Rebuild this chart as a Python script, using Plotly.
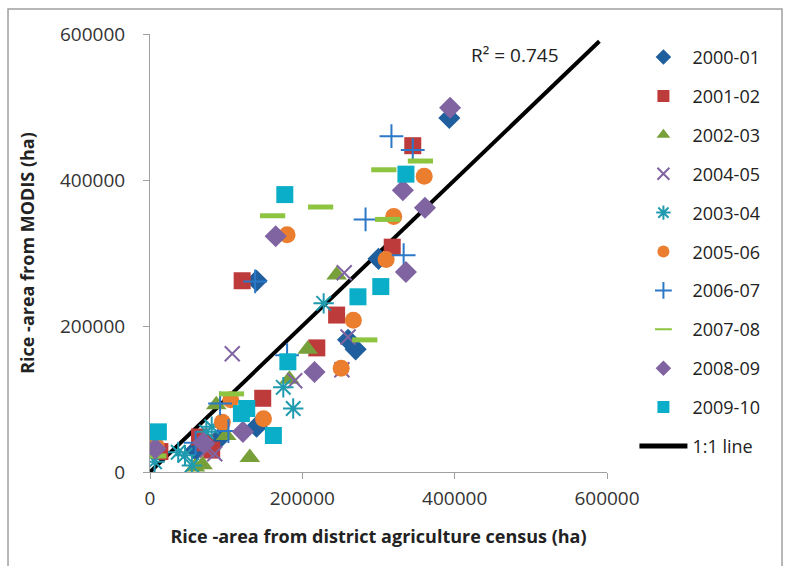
import plotly.graph_objects as go

series_names = ["2000-01", "2001-02", "2002-03", "2004-05", "2003-04",
                "2005-06", "2006-07", "2007-08", "2008-09", "2009-10"]

x_2000_01 = [393000, 140000, 270000, 260000, 300000, 140000, 60000, 90000]
y_2000_01 = [485000, 262000, 168000, 181000, 292000, 62000, 30000, 45000]

x_2001_02 = [345000, 121000, 318000, 245000, 219000, 148000, 65000, 81000, 13000, 72000]
y_2001_02 = [447000, 262000, 308000, 215000, 170000, 101000, 48000, 30000, 28000, 40000]

x_2002_03 = [245000, 207000, 183000, 131000, 87000, 100000, 59000, 69000]
y_2002_03 = [270000, 168000, 127000, 20000, 92000, 50000, 7000, 10000]

x_2004_05 = [108000, 255000, 260000, 252000, 190000, 75000, 85000, 5000]
y_2004_05 = [162000, 273000, 185000, 140000, 125000, 30000, 25000, 38000]

x_2003_04 = [228000, 188000, 175000, 37000, 46000, 55000, 74000, 81000, 6000]
y_2003_04 = [231000, 87000, 116000, 27000, 23000, 9000, 55000, 62000, 14000]

x_2005_06 = [360000, 320000, 180000, 310000, 267000, 251000, 149000, 106000, 95000, 8000]
y_2005_06 = [405000, 350000, 325000, 291000, 208000, 142000, 73000, 99000, 68000, 36000]

x_2006_07 = [317000, 345000, 283000, 333000, 138000, 92000, 103000, 180000, 60000]
y_2006_07 = [460000, 441000, 346000, 297000, 261000, 94000, 56000, 160000, 40000]

x_2007_08 = [355000, 307000, 312000, 224000, 161000, 282000, 107000, 5000]
y_2007_08 = [426000, 414000, 346000, 363000, 351000, 181000, 107000, 22000]

x_2008_09 = [394000, 332000, 361000, 165000, 336000, 216000, 122000, 7000, 70000]
y_2008_09 = [499000, 386000, 362000, 323000, 274000, 137000, 55000, 32000, 40000]

x_2009_10 = [336000, 177000, 303000, 273000, 181000, 127000, 120000, 162000, 11000]
y_2009_10 = [408000, 380000, 254000, 240000, 151000, 87000, 80000, 50000, 55000]

line_x = [0, 590000]
line_y = [0, 590000]

tick_vals = [0, 200000, 400000, 600000]
tick_text = ["0", "200000", "400000", "600000"]

xs = [x_2000_01, x_2001_02, x_2002_03, x_2004_05, x_2003_04,
      x_2005_06, x_2006_07, x_2007_08, x_2008_09, x_2009_10]
ys = [y_2000_01, y_2001_02, y_2002_03, y_2004_05, y_2003_04,
      y_2005_06, y_2006_07, y_2007_08, y_2008_09, y_2009_10]

styles = [
    dict(symbol="diamond", color="#1F5F9E", size=17, line=dict(width=0)),
    dict(symbol="square", color="#BE3B3B", size=17, line=dict(width=0)),
    dict(symbol="triangle-up", color="#77A03B", size=18, line=dict(width=0)),
    dict(symbol="x-thin-open", color="#8064A2", size=15, line=dict(width=2, color="#8064A2")),
    dict(symbol="asterisk-open", color="#1F9AAF", size=17, line=dict(width=2, color="#1F9AAF")),
    dict(symbol="circle", color="#EA7D2E", size=17, line=dict(width=0)),
    dict(symbol="cross-thin-open", color="#2C78C8", size=17, line=dict(width=2, color="#2C78C8")),
    dict(symbol="line-ew-open", color="#8DC440", size=18, line=dict(width=5, color="#8DC440")),
    dict(symbol="diamond", color="#8064A2", size=17, line=dict(width=0)),
    dict(symbol="square", color="#0AAEC8", size=17, line=dict(width=0)),
]

fig = go.Figure()

fig.add_trace(go.Scatter(x=line_x, y=line_y, mode="lines", name="1:1 line",
                         line=dict(color="black", width=4),
                         legendgroup="line", legendrank=2000))

for i, (name, x, y, st) in enumerate(zip(series_names, xs, ys, styles)):
    fig.add_trace(go.Scatter(x=x, y=y, mode="markers", name=name,
                             marker=st, legendgroup=name, legendrank=1000 + i))

font = "Open Sans, Noto Sans, sans-serif"

fig.add_annotation(x=479000, y=571000, text="R² = 0.745", showarrow=False,
                   font=dict(family=font, size=19, color="#222"))

axis_common = dict(range=[0, 600000], tickvals=tick_vals, ticktext=tick_text,
                   showgrid=False, zeroline=False, showline=True,
                   linecolor="#A0A0A0", linewidth=1, ticks="outside",
                   ticklen=6, tickcolor="#A0A0A0",
                   tickfont=dict(family=font, size=19, color="#333"))

fig.update_xaxes(**axis_common, ticklabelstandoff=3,
                 title=dict(text="<b>Rice -area from district agriculture census (ha)</b>",
                            font=dict(family=font, size=18, color="#222"), standoff=20))
fig.update_yaxes(**axis_common, ticklabelstandoff=14,
                 title=dict(text="<b>Rice -area from MODIS (ha)</b>",
                            font=dict(family=font, size=18, color="#222"), standoff=20))

fig.add_shape(type="rect", xref="paper", yref="paper",
              x0=-0.3107, x1=1.383, y0=-0.3, y1=1.057,
              line=dict(color="#A0A0A0", width=1.5))

fig.update_layout(
    width=785, height=566,
    margin=dict(l=150, r=178, t=34, b=94),
    plot_bgcolor="white", paper_bgcolor="white",
    legend=dict(x=1.06, y=0.989, xanchor="left", yanchor="top",
                font=dict(family=font, size=18, color="#222"),
                tracegroupgap=12.5, itemwidth=48, itemsizing="constant",
                bgcolor="rgba(0,0,0,0)"),
)

fig.write_html("out.html")
